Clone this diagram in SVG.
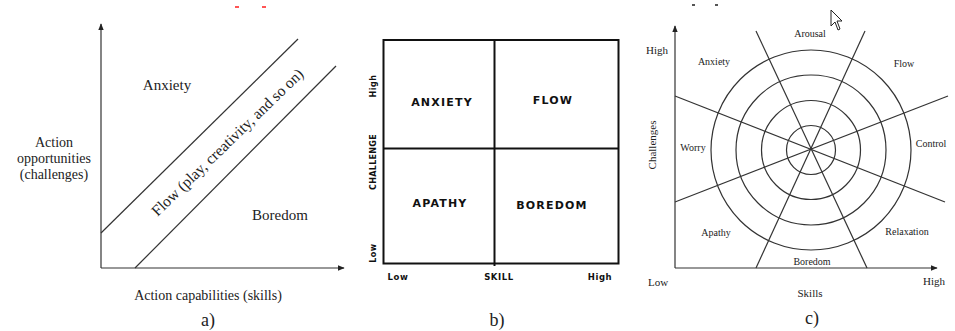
<svg xmlns="http://www.w3.org/2000/svg" width="955" height="331" viewBox="0 0 955 331">
<style>
.ser{font-family:"Liberation Serif","Times New Roman",serif;fill:#222;}
.san{font-family:"DejaVu Sans",Verdana,sans-serif;font-weight:bold;fill:#111;}
.ln{stroke:#333;stroke-width:1.2;fill:none;}
.box{stroke:#111;stroke-width:2;fill:none;}
.cap{font-size:18px;text-anchor:middle;}
</style>
<defs>
<marker id="arr" viewBox="0 0 10 10" refX="9" refY="5" markerWidth="7" markerHeight="7" markerUnits="userSpaceOnUse" orient="auto">
<path d="M0,1 L10,5 L0,9 Z" fill="#222"/>
</marker>
</defs>
<rect width="955" height="331" fill="#fff"/>
<g id="artifacts">
<rect x="235" y="6" width="4" height="2" fill="#f55"/>
<rect x="262" y="6" width="4" height="2" fill="#f55"/>
<rect x="692" y="4" width="3" height="2" fill="#555"/>
<rect x="715" y="4" width="3" height="2" fill="#555"/>
<path d="M831,10 L831,26 L835,22 L838,30 L840,29 L837,21 L842,21 Z" fill="#fff" stroke="#222" stroke-width="1"/>
</g>
<g id="panel-a">
<g id="a-axes">
<line class="ln" x1="101" y1="268" x2="101" y2="24" marker-end="url(#arr)"/>
<line class="ln" x1="101" y1="268" x2="344" y2="268" marker-end="url(#arr)"/>
</g>
<g id="a-lines">
<line class="ln" x1="101" y1="233" x2="298" y2="39"/>
<line class="ln" x1="135" y1="268" x2="336" y2="66"/>
</g>
<g id="a-anxiety"><text class="ser" x="167" y="90" font-size="15" text-anchor="middle">Anxiety</text></g>
<g id="a-boredom"><text class="ser" x="280" y="220" font-size="15" text-anchor="middle">Boredom</text></g>
<g id="a-flow"><text class="ser" font-size="15.5" text-anchor="middle" transform="translate(231,146) rotate(-44)">Flow (play, creativity, and so on)</text></g>
<g id="a-ylabel">
<text class="ser" font-size="14" text-anchor="middle"><tspan x="54" y="147">Action</tspan><tspan x="54" y="163">opportunities</tspan><tspan x="54" y="179">(challenges)</tspan></text>
</g>
<g id="a-xlabel"><text class="ser" x="208" y="300" font-size="14" text-anchor="middle">Action capabilities (skills)</text></g>
<text class="ser cap" x="208" y="326">a)</text>
</g>
<g id="panel-b">
<g id="b-grid">
<rect class="box" x="383.5" y="40" width="235" height="223.5"/>
<line class="box" x1="494.5" y1="40" x2="494.5" y2="266"/>
<line class="box" x1="383.5" y1="148.5" x2="618.5" y2="148.5"/>
</g>
<g id="b-anxiety"><text class="san" x="442" y="106" font-size="11" letter-spacing="1.2" text-anchor="middle">ANXIETY</text></g>
<g id="b-flow"><text class="san" x="553" y="104" font-size="11" letter-spacing="1.2" text-anchor="middle">FLOW</text></g>
<g id="b-apathy"><text class="san" x="440" y="207" font-size="11" letter-spacing="1.2" text-anchor="middle">APATHY</text></g>
<g id="b-boredom"><text class="san" x="552" y="209" font-size="11" letter-spacing="1.2" text-anchor="middle">BOREDOM</text></g>
<g id="b-ylabels" font-size="8">
<text class="san" text-anchor="middle" letter-spacing="0.5" transform="translate(376,86) rotate(-90)">High</text>
<text class="san" text-anchor="middle" letter-spacing="0.3" transform="translate(376,162) rotate(-90)">CHALLENGE</text>
<text class="san" text-anchor="middle" letter-spacing="0.5" transform="translate(376,253) rotate(-90)">Low</text>
</g>
<g id="b-xlabels" font-size="8.5">
<text class="san" x="398" y="280" text-anchor="middle" letter-spacing="0.6">Low</text>
<text class="san" x="499" y="280" text-anchor="middle" letter-spacing="0.6">SKILL</text>
<text class="san" x="600" y="280" text-anchor="middle" letter-spacing="0.6">High</text>
</g>
<text class="ser cap" x="497" y="326">b)</text>
</g>
<g id="panel-c">
<g id="c-axes">
<line class="ln" x1="675" y1="268" x2="675" y2="26" marker-end="url(#arr)"/>
<line class="ln" x1="675" y1="268" x2="937" y2="268" marker-end="url(#arr)"/>
</g>
<g id="c-circles" class="ln">
<circle cx="811" cy="150" r="24.5"/>
<circle cx="811" cy="150" r="49.5"/>
<circle cx="811" cy="150" r="75"/>
<circle cx="811" cy="150" r="100"/>
</g>
<g id="c-lines">
<line class="ln" x1="756" y1="31" x2="867" y2="268"/>
<line class="ln" x1="865" y1="31" x2="756" y2="268"/>
<line class="ln" x1="675" y1="96" x2="945" y2="202"/>
<line class="ln" x1="675" y1="202" x2="948" y2="96"/>
</g>
<g id="c-labels" font-size="10">
<text class="ser" x="810" y="37" text-anchor="middle">Arousal</text>
<text class="ser" x="714" y="65" text-anchor="middle">Anxiety</text>
<text class="ser" x="904" y="67" text-anchor="middle">Flow</text>
<text class="ser" x="693" y="151" text-anchor="middle">Worry</text>
<text class="ser" x="931" y="147" text-anchor="middle">Control</text>
<text class="ser" x="716" y="236" text-anchor="middle">Apathy</text>
<text class="ser" x="907" y="235" text-anchor="middle">Relaxation</text>
<text class="ser" x="812" y="265" text-anchor="middle">Boredom</text>
</g>
<g id="c-axislabels" font-size="11">
<text class="ser" x="657" y="54" text-anchor="middle">High</text>
<text class="ser" x="658" y="286" text-anchor="middle">Low</text>
<text class="ser" x="934" y="285" text-anchor="middle">High</text>
<text class="ser" x="810" y="297" text-anchor="middle">Skills</text>
<text class="ser" text-anchor="middle" transform="translate(656,145) rotate(-90)">Challenges</text>
</g>
<text class="ser cap" x="812" y="324">c)</text>
</g>
</svg>
